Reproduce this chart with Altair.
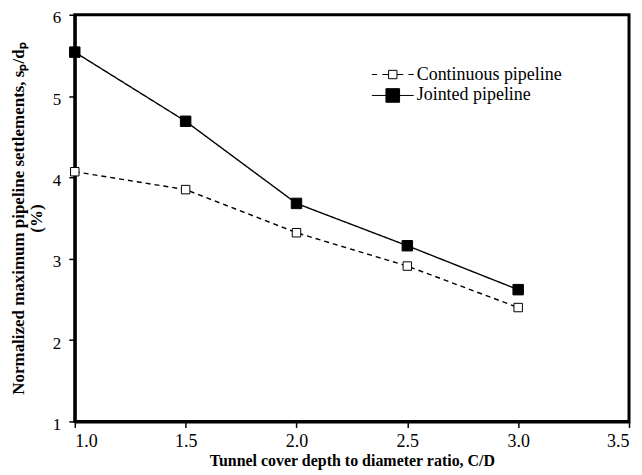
import altair as alt
import pandas as pd

ratio = [1.0, 1.5, 2.0, 2.5, 3.0]
continuous = [4.07, 3.85, 3.32, 2.91, 2.40]
jointed = [5.54, 4.69, 3.68, 3.16, 2.62]
series_names = ["Continuous pipeline", "Jointed pipeline"]
x_ticks = [1.0, 1.5, 2.0, 2.5, 3.0, 3.5]
y_ticks = [1, 2, 3, 4, 5, 6]

rows = []
for x, c, j in zip(ratio, continuous, jointed):
    rows.append({"ratio": x, "value": c, "series": series_names[0]})
    rows.append({"ratio": x, "value": j, "series": series_names[1]})
df = pd.DataFrame(rows)

FONT = "Liberation Serif"
is_joint = f"datum.series == '{series_names[1]}'"

xenc = alt.X("ratio:Q", scale=alt.Scale(domain=[1.0, 3.5], nice=False),
             axis=alt.Axis(values=x_ticks, format=".1f",
                           title="Tunnel cover depth to diameter ratio, C/D"))
yenc = alt.Y("value:Q", scale=alt.Scale(domain=[1, 6], nice=False),
             axis=alt.Axis(values=y_ticks, format="d", labelOffset=3, labelPadding=8,
                           labelFontSize=17,
                           title=["Normalized maximum pipeline settlements, sₚ/dₚ", "(%)"]))

base = alt.Chart(df).encode(x=xenc, y=yenc)

lines = base.mark_line(color="black", strokeWidth=1.4).encode(
    detail="series:N",
    strokeDash=alt.condition(is_joint, alt.value([1, 0]), alt.value([5, 4])),
)

points = base.mark_point(shape="square", stroke="black", strokeWidth=1, opacity=1).encode(
    fill=alt.condition(is_joint, alt.value("black"), alt.value("white")),
    size=alt.condition(is_joint, alt.value(110), alt.value(72)),
)

path_cont = "M-2,0H-1.5M-1,0H-0.4M0.4,0H1M1.5,0H2M-0.4,-0.4H0.4V0.4H-0.4Z"
path_joint = "M-2,0H2M-0.65,-0.65H0.65V0.65H-0.65Z"

leg = alt.Legend(orient="none", legendX=308, legendY=49, title=None,
                 symbolSize=441, labelOffset=13, padding=0, rowPadding=1,
                 labelFont=FONT, labelFontSize=18, labelColor="black",
                 symbolStrokeWidth=1, symbolStrokeColor="black", symbolOpacity=1)

legend_layer = base.mark_point(stroke="black", strokeWidth=1, opacity=1).encode(
    shape=alt.Shape("series:N", scale=alt.Scale(domain=series_names, range=[path_cont, path_joint]), legend=leg),
    fill=alt.Fill("series:N", scale=alt.Scale(domain=series_names, range=["white", "black"]), legend=leg),
    stroke=alt.Stroke("series:N", scale=alt.Scale(domain=series_names, range=["black", "black"]), legend=leg),
).transform_filter("false")

chart = alt.layer(lines, points, legend_layer).properties(
    width=556, height=408,
    autosize=alt.AutoSizeParams(type="none"),
    padding={"left": 67, "top": 6, "right": 5, "bottom": 50},
).configure_view(
    stroke="black", strokeWidth=3
).configure_axis(
    domainColor="black", domainWidth=3,
    tickColor="black", tickWidth=1.5, tickSize=6,
    labelFont=FONT, labelFontSize=18, labelColor="black", labelPadding=5,
    titleFont=FONT, titleFontSize=16, titleFontWeight="bold", titleColor="black",
    grid=False,
).configure_axisX(
    titlePadding=2,
).configure_axisY(
    titlePadding=7, titleLineHeight=18, titleFontSize=17,
)

chart.save("out.html", embed_options={"renderer": "svg", "actions": False})
